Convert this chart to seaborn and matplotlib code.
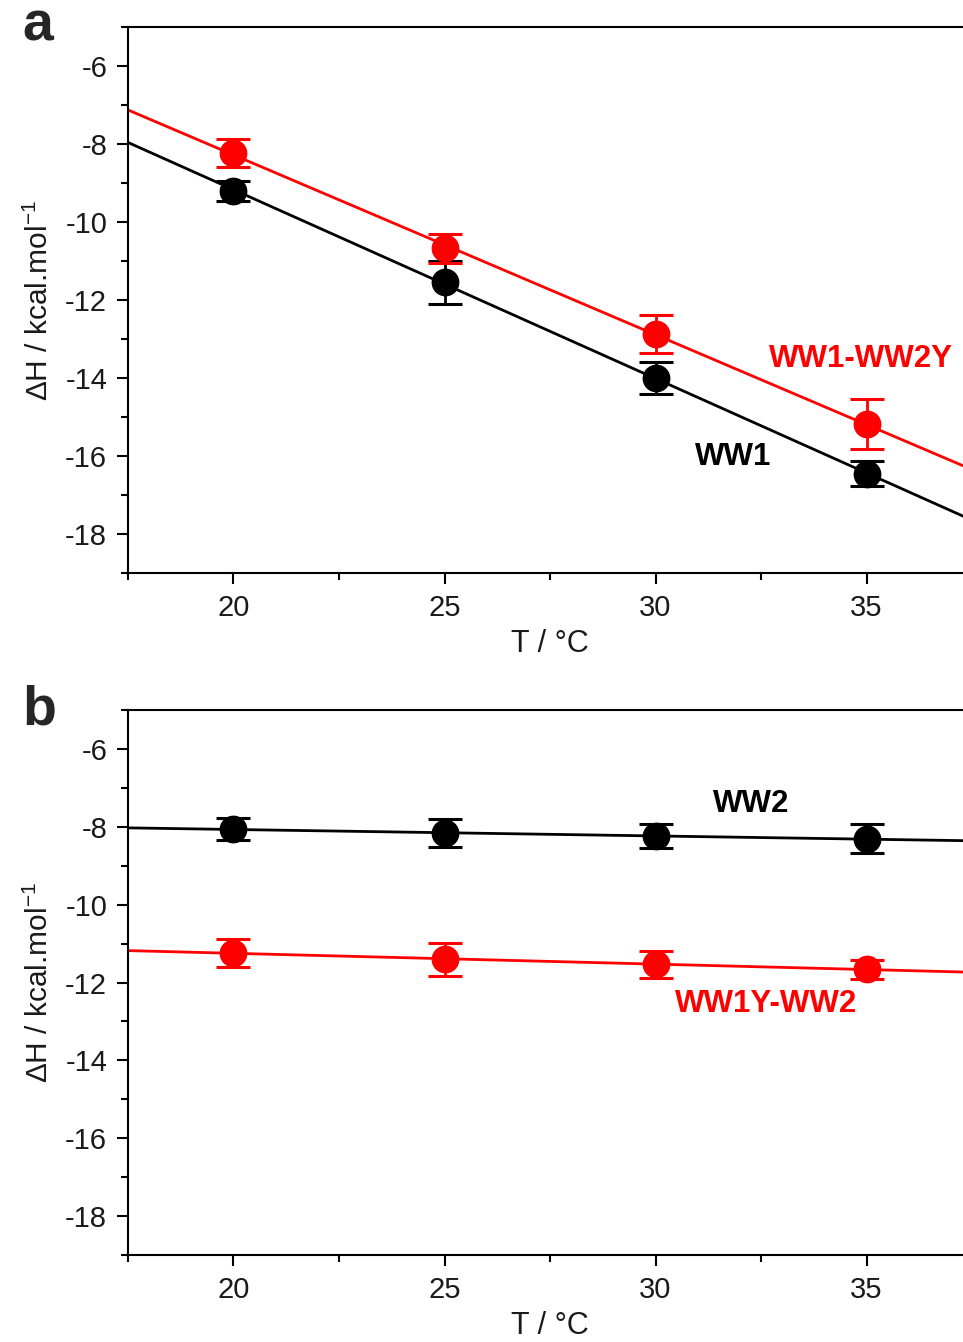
import numpy as np
import pandas as pd
import matplotlib
matplotlib.use("Agg")
import matplotlib.pyplot as plt
from matplotlib.ticker import MultipleLocator
import seaborn as sns

## data
T = [20, 25, 30, 35]

# panel a
ww1_dH = [-9.21, -11.54, -14.00, -16.46]
ww1_err = [0.26, 0.55, 0.41, 0.32]
ww1_ww2y_dH = [-8.23, -10.67, -12.87, -15.18]
ww1_ww2y_err = [0.37, 0.37, 0.49, 0.63]

# panel b
ww2_dH = [-8.06, -8.16, -8.24, -8.31]
ww2_err = [0.29, 0.37, 0.30, 0.37]
ww1y_ww2_dH = [-11.24, -11.40, -11.53, -11.66]
ww1y_ww2_err = [0.35, 0.42, 0.35, 0.25]

sns.set_theme(style="ticks")
plt.rcParams['font.family'] = ['Liberation Sans', 'DejaVu Sans']
plt.rcParams['mathtext.fontset'] = 'custom'
plt.rcParams['mathtext.rm'] = 'Liberation Sans'
plt.rcParams['mathtext.it'] = 'Liberation Sans:italic'
plt.rcParams['axes.unicode_minus'] = False

fig = plt.figure(figsize=(9.63, 13.42), dpi=100)
ax_a = fig.add_axes([0.1329, 0.5730, 0.8765, 0.4069])
ax_b = fig.add_axes([0.1329, 0.0648, 0.8765, 0.4061])

panels = [
    (ax_a, "a", [(ww1_dH, ww1_err, "black"), (ww1_ww2y_dH, ww1_ww2y_err, "red")],
     [("WW1-WW2Y", 34.86, -13.51, "red"), ("WW1", 31.85, -16.03, "black")]),
    (ax_b, "b", [(ww2_dH, ww2_err, "black"), (ww1y_ww2_dH, ww1y_ww2_err, "red")],
     [("WW2", 32.27, -7.41, "black"), ("WW1Y-WW2", 32.63, -12.56, "red")]),
]

for ax, letter, series, labels in panels:
    ax.set_xlim(17.5, 37.5)
    ax.set_ylim(-19, -5)
    for dH, err, col in series:
        df = pd.DataFrame({'T': T, 'dH': dH})
        # linear fit across the whole axis
        sns.regplot(data=df, x='T', y='dH', ax=ax, scatter=False, ci=None,
                    truncate=False, color=col, line_kws={'lw': 2, 'zorder': 2})
        ax.errorbar(T, dH, yerr=err, fmt='o', color=col, ms=19, capsize=12,
                    elinewidth=2, capthick=2.2, zorder=3)
    for txt, x, y, col in labels:
        ax.text(x, y, txt, color=col, fontsize=22.5, fontweight='bold',
                ha='center', va='center')
    ax.set_xlim(17.5, 37.5)
    ax.set_ylim(-19, -5)
    ax.set_xticks([20, 25, 30, 35])
    ax.set_yticks(np.arange(-18, -5, 2))
    ax.xaxis.set_minor_locator(MultipleLocator(2.5))
    ax.yaxis.set_minor_locator(MultipleLocator(1))
    ax.tick_params(which='major', direction='out', length=8, width=1.5,
                   labelsize=21, pad=7, color='black', labelcolor='#1a1a1a')
    ax.tick_params(which='minor', direction='out', length=5, width=1.5, color='black')
    ax.tick_params(top=False, right=False, which='both')
    for s in ax.spines.values():
        s.set_linewidth(1.5)
        s.set_color('black')
    ax.set_xlabel("T / °C", fontsize=22, color='#1a1a1a', labelpad=5)
    ax.set_ylabel("ΔH / kcal.mol$^{-1}$", fontsize=21.5, color='#1a1a1a', labelpad=8)
    ax.text(-0.125, 1.0, letter, transform=ax.transAxes, fontsize=40,
            fontweight='bold', ha='left', va='center')

fig.savefig("out.png", dpi=100)
